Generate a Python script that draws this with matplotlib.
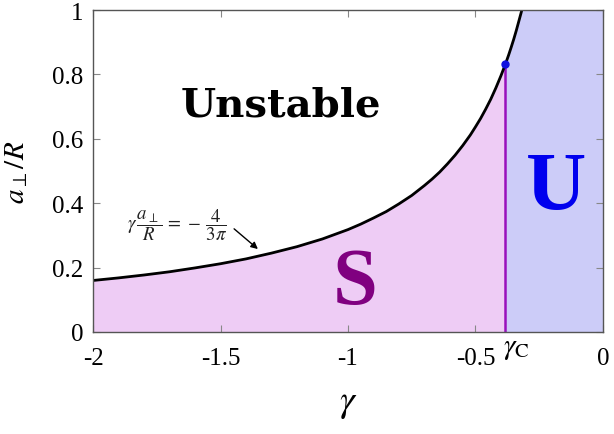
import numpy as np
import matplotlib
matplotlib.use("Agg")
from matplotlib import pyplot as plt

plt.rcParams['font.family'] = ['Liberation Serif', 'DejaVu Serif']
plt.rcParams['mathtext.fontset'] = 'stix'

# boundary curve
gamma = [-2.0, -1.9, -1.8, -1.7, -1.6, -1.5, -1.4, -1.3, -1.2, -1.1, -1.0,
         -0.95, -0.9, -0.85, -0.8, -0.75, -0.7, -0.67, -0.64, -0.61, -0.58,
         -0.55, -0.52, -0.5, -0.48, -0.46, -0.44, -0.42, -0.40, -0.383,
         -0.37, -0.36, -0.35, -0.34, -0.33, -0.318]
a_over_R = [0.16, 0.168, 0.177, 0.187, 0.199, 0.212, 0.227, 0.245, 0.265,
            0.289, 0.318, 0.335, 0.354, 0.374, 0.398, 0.424, 0.455, 0.475,
            0.497, 0.522, 0.549, 0.579, 0.612, 0.637, 0.663, 0.692, 0.723,
            0.758, 0.796, 0.831, 0.860, 0.884, 0.909, 0.936, 0.965, 1.0]
gamma_c = -0.383
a_c = 0.831

xticks = [-2, -1.5, -1, -0.5, 0]
xtick_labels = ['-2', '-1.5', '-1', '-0.5', '0']
yticks = [0, 0.2, 0.4, 0.6, 0.8, 1]
ytick_labels = ['0', '0.2', '0.4', '0.6', '0.8', '1']

fig = plt.figure(figsize=(6.14, 4.35), dpi=100)
ax = fig.add_axes([0.1515, 0.2345, 0.8305, 0.7402])

g = np.array(gamma)
a = np.array(a_over_R)
left = g <= gamma_c
right = g >= gamma_c

# stable region (under the curve, left of gamma_c)
ax.fill(np.concatenate([g[left], [gamma_c, gamma_c, -2]]),
        np.concatenate([a[left], [a_c, 0, 0]]),
        color='#EECCF5', lw=0, zorder=1)
# U region (right of gamma_c and of the curve)
ax.fill(np.concatenate([[gamma_c], g[right], [0, 0]]),
        np.concatenate([[0], a[right], [1, 0]]),
        color='#CCCCF8', lw=0, zorder=1)

ax.plot(gamma, a_over_R, color='black', lw=2, zorder=3)
ax.plot([gamma_c, gamma_c], [0, a_c], color='#9911BB', lw=1.8, zorder=2)
ax.plot([gamma_c], [a_c], 'o', color='#1010E0', ms=5, zorder=4)

ax.text(-1.263, 0.705, 'Unstable', fontsize=29, fontweight='bold',
        family='DejaVu Serif', ha='center', va='center')
ax.text(-0.973, 0.15, 'S', fontsize=58, fontweight='bold', color='#800080',
        ha='center', va='center')
ax.text(-0.184, 0.445, 'U', fontsize=60, fontweight='bold', color='#0000EE',
        ha='center', va='center')

ax.annotate('', xy=(-1.345, 0.252), xytext=(-1.455, 0.326),
            arrowprops=dict(arrowstyle='-|>', color='black', lw=1,
                            mutation_scale=10))
ax.text(-1.67, 0.335, r'$\gamma\,\dfrac{a_\perp}{R}\,=\,-\,\dfrac{4}{3\pi}$',
        fontsize=13.5, ha='center', va='center', color='#222222')

ax.set_xlim(-2, 0)
ax.set_ylim(0, 1)
ax.set_xticks(xticks)
ax.set_xticklabels(xtick_labels)
ax.set_yticks(yticks)
ax.set_yticklabels(ytick_labels)
ax.tick_params(direction='in', top=True, right=True, length=5, width=0.8,
               color='#888888', labelsize=18)
ax.tick_params(axis='x', pad=11)
ax.tick_params(axis='y', pad=7)
for s in ax.spines.values():
    s.set_color('#555555')
    s.set_linewidth(1)
    s.set_zorder(5)

ax.text(gamma_c - 0.01, -0.01, r'$\gamma_{\mathrm{C}}$', fontsize=21,
        ha='left', va='top')

ax.set_xlabel(r'$\gamma$', fontsize=27, labelpad=12)
ax.set_ylabel(r'$a_\perp/R$', fontsize=21, labelpad=16)

fig.savefig('out.png', dpi=100)
